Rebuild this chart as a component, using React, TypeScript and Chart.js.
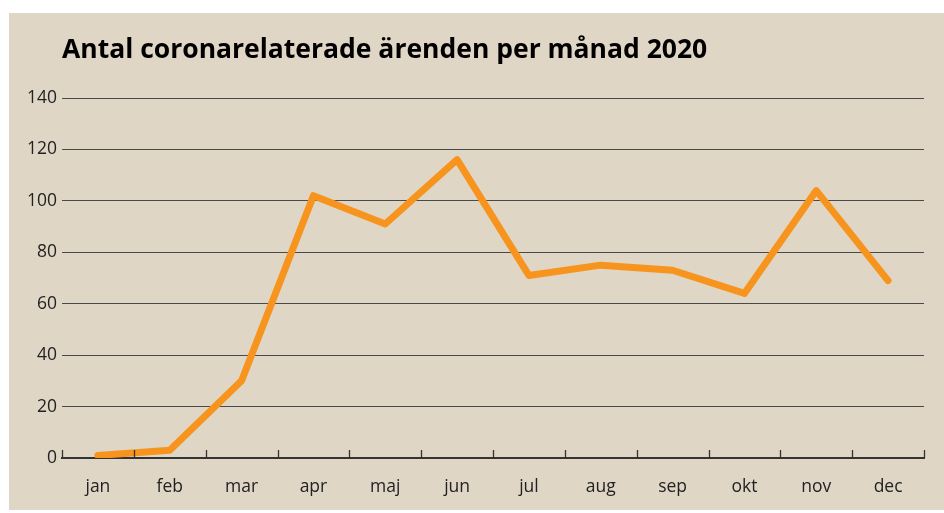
import React, { useEffect, useRef } from "react";
import { Chart, registerables } from "chart.js";

Chart.register(...registerables);

const title = "Antal coronarelaterade ärenden per månad 2020";
const months = ["jan", "feb", "mar", "apr", "maj", "jun", "jul", "aug", "sep", "okt", "nov", "dec"];
const cases = [1, 3, 30, 102, 91, 116, 71, 75, 73, 64, 104, 69];
const yMax = 140;
const yStep = 20;

const FONT = "'Open Sans', 'Noto Sans', sans-serif";

const decorPlugin = {
  id: "decor",
  afterDraw(chart: any) {
    const ctx = chart.ctx;
    const area = chart.chartArea;
    const x = chart.scales.x;
    ctx.save();
    // title
    ctx.fillStyle = "#000";
    ctx.font = `700 26.5px ${FONT}`;
    ctx.textBaseline = "alphabetic";
    ctx.textAlign = "left";
    ctx.fillText(title, area.left, 45);
    // inward tick marks at category boundaries
    ctx.strokeStyle = "#333";
    ctx.lineWidth = 1.3;
    const n = months.length;
    for (let i = 0; i <= n; i++) {
      const px = Math.round(x.left + (i * (x.right - x.left)) / n) + 0.5;
      ctx.beginPath();
      ctx.moveTo(px, area.bottom);
      ctx.lineTo(px, area.bottom - 8);
      ctx.stroke();
    }
    ctx.restore();
  },
};

export default function App() {
  const ref = useRef<HTMLCanvasElement>(null);
  useEffect(() => {
    if (!ref.current) return;
    const chart = new Chart(ref.current, {
      type: "line",
      data: {
        labels: months,
        datasets: [
          {
            data: cases,
            borderColor: "#f7941d",
            borderWidth: 7,
            pointRadius: 0,
            borderCapStyle: "round",
            borderJoinStyle: "round",
            tension: 0,
          },
        ],
      },
      options: {
        animation: false,
        responsive: true,
        maintainAspectRatio: false,
        layout: { padding: { top: 85, right: 20, left: 0, bottom: 0 } },
        plugins: { legend: { display: false }, tooltip: { enabled: false }, title: { display: false } },
        scales: {
          x: {
            offset: true,
            grid: { display: false, drawTicks: false },
            border: { display: true, color: "#333", width: 2 },
            ticks: { color: "#222", font: { family: FONT, size: 17.5 }, padding: 19 },
            afterFit: (s: any) => {
              s.height = 52;
            },
          },
          y: {
            min: 0,
            max: yMax,
            grid: { color: "#4a4a4a", lineWidth: 1, drawTicks: false },
            border: { display: false },
            ticks: { stepSize: yStep, color: "#222", font: { family: FONT, size: 17.5 }, padding: 5 },
            afterFit: (s: any) => {
              s.width = 53;
            },
          },
        },
      },
      plugins: [decorPlugin],
    });
    return () => chart.destroy();
  }, []);
  return (
    <div
      style={{
        position: "absolute",
        left: 9,
        top: 13,
        width: 935,
        height: 497,
        background: "#e0d6c6",
      }}
    >
      <canvas ref={ref} />
    </div>
  );
}
